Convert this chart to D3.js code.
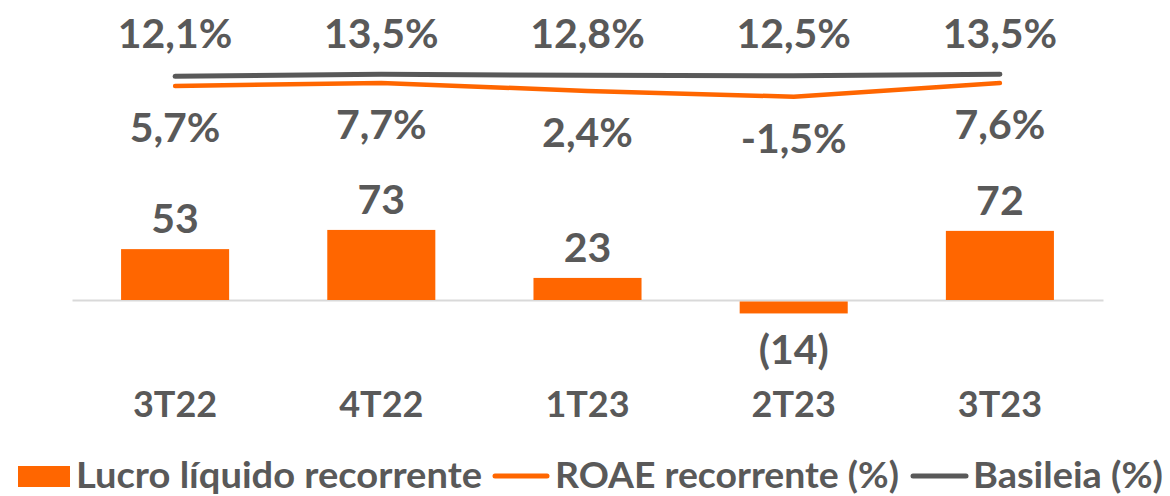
<!DOCTYPE html>
<html>
<head>
<meta charset="utf-8">
<script src="https://cdn.jsdelivr.net/npm/d3@7"></script>
<style>
  html, body { margin: 0; padding: 0; background: #fff; }
  svg text { font-family: Lato, "Open Sans", sans-serif; font-weight: 700; fill: #595959; }
</style>
</head>
<body>
<svg id="canvas"></svg>
<script>
// dados do gráfico
const periodos = ['3T22', '4T22', '1T23', '2T23', '3T23']
const lucro = [53, 73, 23, -14, 72]
const lucroLabels = ['53', '73', '23', '(14)', '72']
const roae = [5.7, 7.7, 2.4, -1.5, 7.6]
const basileia = [12.1, 13.5, 12.8, 12.5, 13.5]
const legendaNomes = ['Lucro líquido recorrente', 'ROAE recorrente (%)', 'Basileia (%)']

const fmtPct = v => v.toFixed(1).replace('.', ',') + '%'

let w = 1170
let h = 496
const laranja = '#FF6600'
const cinza = '#595959'

let canvas = d3.select('#canvas')
canvas.attr('width', w).attr('height', h)

// escalas
let xScale = d3.scaleBand()
      .domain(periodos)
      .range([72, 1103])
      .paddingInner(0.476)
      .paddingOuter(0.238)

let yBar = d3.scaleLinear()
      .domain([0, 100])
      .range([300, 204])

let yLine = d3.scaleLinear()
      .domain([0, 10])
      .range([94.5, 79.5])

let cx = d => xScale(d) + xScale.bandwidth() / 2

// eixo (só a linha)
let xAxis = d3.axisBottom(xScale).tickSize(0).tickFormat('')
let eixo = canvas.append('g')
      .attr('transform', 'translate(0,' + yBar(0) + ')')
      .call(xAxis)
eixo.select('.domain').attr('stroke', '#D9D9D9').attr('stroke-width', 2)

// barras
canvas.selectAll('rect.bar')
      .data(lucro)
      .enter()
      .append('rect')
      .attr('class', 'bar')
      .attr('x', (d, i) => xScale(periodos[i]))
      .attr('width', xScale.bandwidth())
      .attr('y', d => d >= 0 ? yBar(d) : yBar(0) + 1.5)
      .attr('height', d => d >= 0 ? yBar(0) - yBar(d) : yBar(d) - yBar(0) - 1.5)
      .attr('fill', laranja)

canvas.selectAll('text.barLabel')
      .data(lucro)
      .enter()
      .append('text')
      .attr('class', 'barLabel')
      .attr('x', (d, i) => cx(periodos[i]))
      .attr('y', d => d >= 0 ? yBar(d) - 16 : yBar(d) + 51)
      .attr('text-anchor', 'middle')
      .attr('font-size', 41)
      .text((d, i) => lucroLabels[i])

// categorias
canvas.selectAll('text.cat')
      .data(periodos)
      .enter()
      .append('text')
      .attr('class', 'cat')
      .attr('x', d => cx(d))
      .attr('y', 417)
      .attr('text-anchor', 'middle')
      .attr('font-size', 36)
      .text(d => d)

// linhas
let line = d3.line()
      .x((d, i) => cx(periodos[i]))
      .y(d => yLine(d))

canvas.append('path')
      .datum(basileia)
      .attr('d', line)
      .attr('fill', 'none')
      .attr('stroke', cinza)
      .attr('stroke-width', 5)
      .attr('stroke-linecap', 'round')
      .attr('stroke-linejoin', 'round')

canvas.append('path')
      .datum(roae)
      .attr('d', line)
      .attr('fill', 'none')
      .attr('stroke', laranja)
      .attr('stroke-width', 4.5)
      .attr('stroke-linecap', 'round')
      .attr('stroke-linejoin', 'round')

canvas.selectAll('text.basLabel')
      .data(basileia)
      .enter()
      .append('text')
      .attr('class', 'basLabel')
      .attr('x', (d, i) => cx(periodos[i]))
      .attr('y', 48)
      .attr('text-anchor', 'middle')
      .attr('font-size', 41)
      .text(d => fmtPct(d))

canvas.selectAll('text.roaeLabel')
      .data(roae)
      .enter()
      .append('text')
      .attr('class', 'roaeLabel')
      .attr('x', (d, i) => cx(periodos[i]))
      .attr('y', d => yLine(d) + 56)
      .attr('text-anchor', 'middle')
      .attr('font-size', 41)
      .text(d => fmtPct(d))

// legenda
let leg = canvas.append('g')
leg.append('rect')
      .attr('x', 18).attr('y', 466)
      .attr('width', 52).attr('height', 21)
      .attr('fill', laranja)
leg.append('line')
      .attr('x1', 495).attr('x2', 547)
      .attr('y1', 476).attr('y2', 476)
      .attr('stroke', laranja).attr('stroke-width', 5)
      .attr('stroke-linecap', 'round')
leg.append('line')
      .attr('x1', 913).attr('x2', 966)
      .attr('y1', 476).attr('y2', 476)
      .attr('stroke', cinza).attr('stroke-width', 5)
      .attr('stroke-linecap', 'round')

const legX = [76, 555, 973]
const legLen = [406, 344, 190]
leg.selectAll('text')
      .data(legendaNomes)
      .enter()
      .append('text')
      .attr('x', (d, i) => legX[i])
      .attr('y', 488)
      .attr('font-size', 37)
      .attr('textLength', (d, i) => legLen[i])
      .attr('lengthAdjust', 'spacingAndGlyphs')
      .text(d => d)
</script>
</body>
</html>
